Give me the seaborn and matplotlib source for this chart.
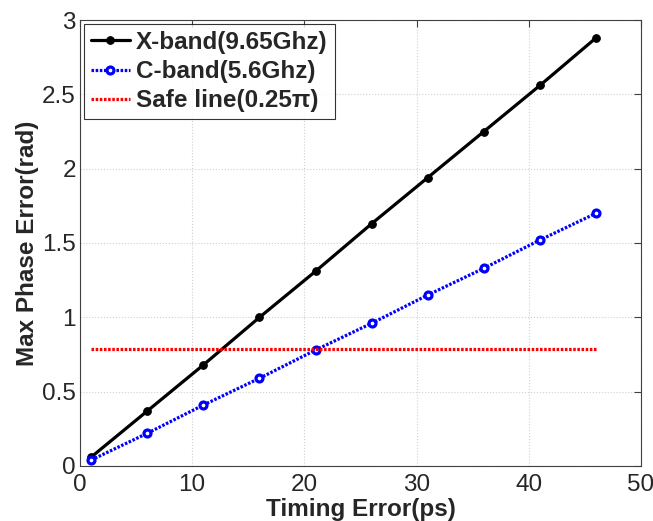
import matplotlib
matplotlib.use("Agg")
import matplotlib.pyplot as plt
import seaborn as sns
import pandas as pd

timing_ps = [1, 6, 11, 16, 21, 26, 31, 36, 41, 46]
xband = [0.06, 0.37, 0.68, 1.00, 1.31, 1.63, 1.94, 2.25, 2.56, 2.88]
cband = [0.04, 0.22, 0.41, 0.59, 0.78, 0.96, 1.15, 1.33, 1.52, 1.70]
safe = [0.785] * len(timing_ps)
labels = ["X-band(9.65Ghz)", "C-band(5.6Ghz)", "Safe line(0.25\u03c0)"]

sns.set_style("white")
plt.rcParams['font.family'] = ['Liberation Sans', 'DejaVu Sans']

fig = plt.figure(figsize=(6.53, 5.21), dpi=100)
ax = fig.add_axes([0.1225, 0.1056, 0.859, 0.856])

df = pd.DataFrame({"t": timing_ps, "x": xband, "c": cband, "s": safe})

sns.lineplot(data=df, x="t", y="x", ax=ax, color="black", lw=2.3, marker="o",
             markersize=5.5, markeredgecolor="black", label=labels[0])
sns.lineplot(data=df, x="t", y="c", ax=ax, color="#0000ff", lw=2.3, ls=(0, (0.8, 0.5)),
             marker="o", markersize=5, markerfacecolor="white", markeredgecolor="#0000ff",
             markeredgewidth=2.3, label=labels[1])
sns.lineplot(data=df, x="t", y="s", ax=ax, color="#ff0000", lw=2.3, ls=(0, (0.8, 0.5)),
             label=labels[2])

ax.set_xlim(0, 50)
ax.set_ylim(0, 3)
ax.set_xticks([0, 10, 20, 30, 40, 50])
ax.set_yticks([0, 0.5, 1, 1.5, 2, 2.5, 3])
ax.set_yticklabels(["0", "0.5", "1", "1.5", "2", "2.5", "3"])
ax.grid(True, color="#d0d0d0", ls=":", lw=0.8)
ax.tick_params(direction="in", length=5, top=True, right=True, labelsize=17.5,
               color="#404040", width=0.8, pad=3)
ax.tick_params(axis="x", pad=6)
for sp in ax.spines.values():
    sp.set_color("#404040")
    sp.set_linewidth(0.8)

ax.set_xlabel("Timing Error(ps)", fontsize=17.5, fontweight="bold", labelpad=1)
ax.set_ylabel("Max Phase Error(rad)", fontsize=17.5, fontweight="bold", labelpad=2)

leg = ax.legend(loc="upper left", prop={"weight": "bold", "size": 17.5},
                frameon=True, fancybox=False, edgecolor="black", borderaxespad=0.15,
                handlelength=1.6, handletextpad=0.25, labelspacing=0.25, borderpad=0.3)
leg.get_frame().set_linewidth(0.8)

fig.savefig("out.png", dpi=100)
